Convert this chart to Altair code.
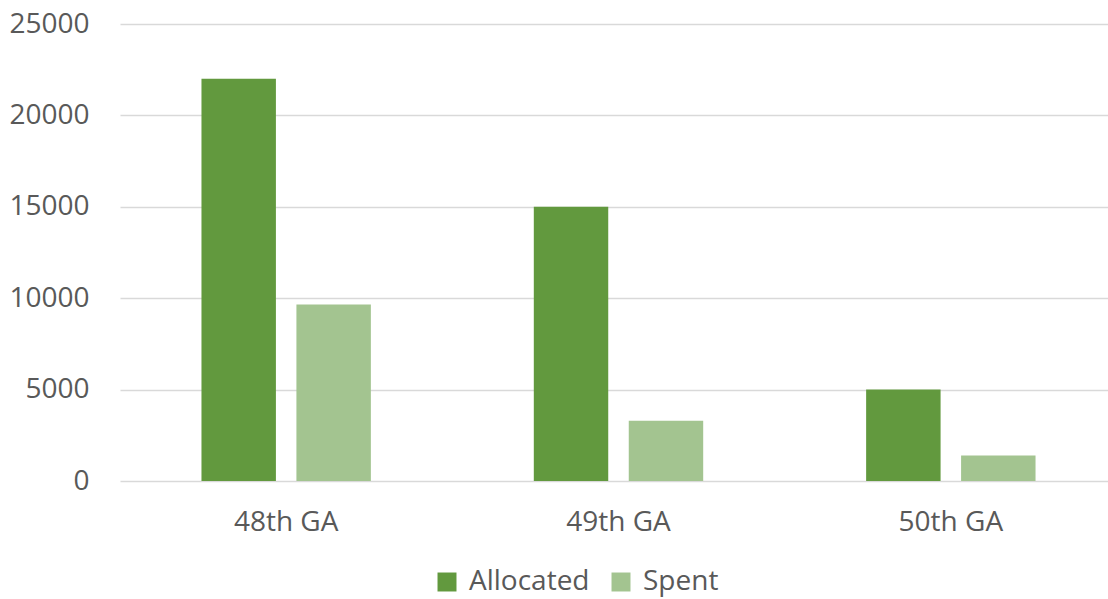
import altair as alt
import pandas as pd

categories = ["48th GA", "49th GA", "50th GA"]
allocated = [22000, 15000, 5000]
spent = [9650, 3300, 1400]
series = ["Allocated", "Spent"]
y_ticks = [0, 5000, 10000, 15000, 20000, 25000]

rows = []
for c, a, s in zip(categories, allocated, spent):
    rows.append({"GA": c, "Series": "Allocated", "Value": a})
    rows.append({"GA": c, "Series": "Spent", "Value": s})
df = pd.DataFrame(rows)

FONT = "Open Sans"
TXT = "#595959"

chart = (
    alt.Chart(df)
    .mark_bar()
    .encode(
        x=alt.X(
            "GA:N",
            sort=categories,
            title=None,
            scale=alt.Scale(paddingInner=0, paddingOuter=0, range=[0, 997]),
            axis=alt.Axis(
                labelAngle=0, domain=False, ticks=False, labelPadding=27,
                labelFontSize=28, labelColor=TXT, labelFont=FONT, grid=False,
            ),
        ),
        xOffset=alt.XOffset(
            "Series:N", sort=series,
            scale=alt.Scale(paddingInner=0.216, paddingOuter=0.858),
        ),
        y=alt.Y(
            "Value:Q",
            title=None,
            scale=alt.Scale(domain=[0, 25000], nice=False),
            axis=alt.Axis(
                values=y_ticks, format="d", domain=False, ticks=False,
                labelPadding=31, labelFontSize=28, labelColor=TXT, labelFont=FONT,
                gridColor="#D9D9D9", gridWidth=1.5,
            ),
        ),
        color=alt.Color(
            "Series:N",
            sort=series,
            scale=alt.Scale(domain=series, range=["#62993E", "#A3C490"]),
            legend=alt.Legend(
                title=None, orient="none", direction="horizontal",
                legendX=313, legendY=544, symbolType="square", symbolSize=360,
                symbolStrokeWidth=0, labelFontSize=28, labelColor=TXT, labelFont=FONT,
                columnPadding=17, labelOffset=8,
            ),
        ),
    )
    .properties(
        width=988, height=457,
        autosize=alt.AutoSizeParams(type="none"),
        padding={"left": 120, "top": 24, "right": 0, "bottom": 118},
    )
    .configure_view(stroke=None)
)

chart.save("out.html", embed_options={"renderer": "svg", "actions": False})
